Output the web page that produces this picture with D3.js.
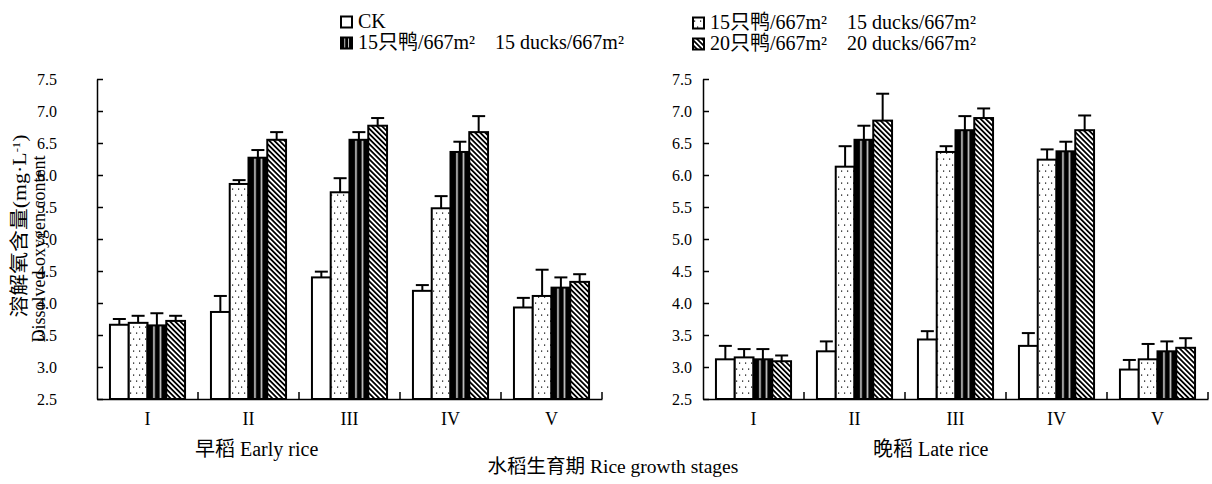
<!DOCTYPE html>
<html>
<head>
<meta charset="utf-8">
<script src="https://cdn.jsdelivr.net/npm/d3@7"></script>
<style>
body { margin: 0; background: #fff; }
text { font-family: "Liberation Serif", "Noto Sans CJK SC", serif; fill: #000; }
</style>
</head>
<body>
<svg id="chart" width="1212" height="484"></svg>
<script>
// 生育期与处理
const stages = ["I", "II", "III", "IV", "V"];
const treatments = ["ck", "d15dot", "d15bar", "d20"];
const yTicks = [2.5, 3.0, 3.5, 4.0, 4.5, 5.0, 5.5, 6.0, 6.5, 7.0, 7.5];

// 早稻 溶解氧均值与误差
const earlyCK = [3.66, 3.86, 4.40, 4.19, 3.93];
const earlyCKErr = [0.09, 0.25, 0.09, 0.09, 0.15];
const earlyDot = [3.69, 5.86, 5.73, 5.48, 4.11];
const earlyDotErr = [0.11, 0.06, 0.22, 0.19, 0.41];
const earlyBar = [3.65, 6.27, 6.55, 6.36, 4.24];
const earlyBarErr = [0.19, 0.12, 0.12, 0.16, 0.16];
const earlyHatch = [3.72, 6.55, 6.77, 6.67, 4.33];
const earlyHatchErr = [0.08, 0.12, 0.12, 0.25, 0.12];

// 晚稻
const lateCK = [3.12, 3.245, 3.43, 3.33, 2.96];
const lateCKErr = [0.21, 0.155, 0.13, 0.20, 0.15];
const lateDot = [3.15, 6.13, 6.36, 6.24, 3.12];
const lateDotErr = [0.13, 0.32, 0.09, 0.16, 0.24];
const lateBar = [3.12, 6.55, 6.70, 6.37, 3.245];
const lateBarErr = [0.16, 0.22, 0.22, 0.15, 0.155];
const lateHatch = [3.09, 6.85, 6.89, 6.70, 3.30];
const lateHatchErr = [0.09, 0.42, 0.15, 0.23, 0.15];

const svg = d3.select("#chart");
const defs = svg.append("defs");

// 点状填充
const pDot = defs.append("pattern").attr("id", "dots")
  .attr("patternUnits", "userSpaceOnUse").attr("width", 6).attr("height", 12);
pDot.append("rect").attr("width", 6).attr("height", 12).attr("fill", "#fff");
pDot.append("rect").attr("x", 1).attr("y", 2.5).attr("width", 1.2).attr("height", 1.2).attr("fill", "#000");
pDot.append("rect").attr("x", 4).attr("y", 8.5).attr("width", 1.2).attr("height", 1.2).attr("fill", "#000");

// 黑底白竖线
const pBar = defs.append("pattern").attr("id", "vbar")
  .attr("width", 1).attr("height", 1).attr("patternContentUnits", "objectBoundingBox");
pBar.append("rect").attr("width", 1).attr("height", 1).attr("fill", "#000");
pBar.append("rect").attr("x", 0.31).attr("width", 0.07).attr("height", 1).attr("fill", "#fff");
pBar.append("rect").attr("x", 0.66).attr("width", 0.07).attr("height", 1).attr("fill", "#fff");

// 斜线
const pHatch = defs.append("pattern").attr("id", "hatch")
  .attr("patternUnits", "userSpaceOnUse").attr("width", 3.6).attr("height", 10)
  .attr("patternTransform", "rotate(-45)");
pHatch.append("rect").attr("width", 3.6).attr("height", 10).attr("fill", "#fff");
pHatch.append("rect").attr("width", 1.8).attr("height", 10).attr("fill", "#000");

const fills = { ck: "#fff", d15dot: "url(#dots)", d15bar: "url(#vbar)", d20: "url(#hatch)" };

const y = d3.scaleLinear().domain([2.5, 7.5]).range([399, 79]);

function drawPanel(range, labelPad, means, errs) {
  const g = svg.append("g");
  const x = d3.scaleBand().domain(stages).range(range).padding(0);
  const xs = d3.scaleBand().domain(treatments).range([0, x.bandwidth()])
    .paddingInner(0).paddingOuter(0.69);

  // y 轴
  const ya = g.append("g").attr("transform", `translate(${range[0]},0)`)
    .call(d3.axisLeft(y).tickValues(yTicks).tickFormat(d3.format(".1f"))
      .tickSizeInner(-6).tickSizeOuter(0).tickPadding(labelPad));
  ya.selectAll("text").style("font-size", "16px").style("font-family", "Liberation Serif");
  ya.selectAll("line,path").attr("stroke", "#000").attr("stroke-width", 1.5);

  // x 轴
  const xa = g.append("g").attr("transform", `translate(0,${y(2.5)})`)
    .call(d3.axisBottom(x).tickSize(0).tickSizeOuter(0).tickPadding(13));
  xa.selectAll("text").style("font-size", "18px").style("font-family", "Liberation Serif");
  xa.select("path").attr("stroke", "#000").attr("stroke-width", 1.5);
  xa.selectAll(".sep").data(stages).join("line").attr("class", "sep")
    .attr("x1", d => x(d) + x.bandwidth()).attr("x2", d => x(d) + x.bandwidth())
    .attr("y1", 0).attr("y2", -7).attr("stroke", "#000").attr("stroke-width", 1.5);

  treatments.forEach((t, i) => {
    const rows = stages.map((s, j) => ({ s, v: means[i][j], e: errs[i][j] }));
    const cx = d => x(d.s) + xs(t) + xs.bandwidth() / 2;
    // 误差线
    g.selectAll(".err-" + t).data(rows).join("line").attr("class", "err-" + t)
      .attr("x1", cx).attr("x2", cx)
      .attr("y1", d => y(d.v)).attr("y2", d => y(d.v + d.e))
      .attr("stroke", "#000").attr("stroke-width", 2);
    g.selectAll(".cap-" + t).data(rows).join("line").attr("class", "cap-" + t)
      .attr("x1", d => cx(d) - 6.5).attr("x2", d => cx(d) + 6.5)
      .attr("y1", d => y(d.v + d.e)).attr("y2", d => y(d.v + d.e))
      .attr("stroke", "#000").attr("stroke-width", 2);
    // 柱
    g.selectAll(".bar-" + t).data(rows).join("rect").attr("class", "bar-" + t)
      .attr("x", d => x(d.s) + xs(t))
      .attr("y", d => y(d.v))
      .attr("width", xs.bandwidth())
      .attr("height", d => y(2.5) - y(d.v))
      .attr("fill", fills[t]).attr("stroke", "#000").attr("stroke-width", 2);
  });
}

drawPanel([97, 602], 40,
  [earlyCK, earlyDot, earlyBar, earlyHatch],
  [earlyCKErr, earlyDotErr, earlyBarErr, earlyHatchErr]);
drawPanel([703, 1208], 11,
  [lateCK, lateDot, lateBar, lateHatch],
  [lateCKErr, lateDotErr, lateBarErr, lateHatchErr]);

// 图例
function legendItem(xi, yc, fill, cn, en) {
  svg.append("rect").attr("x", xi).attr("y", yc - 5.5).attr("width", 11).attr("height", 11)
    .attr("fill", fill).attr("stroke", "#000").attr("stroke-width", 2);
  const t = svg.append("text").attr("x", xi + 17).attr("y", yc + 6).style("font-size", "20px");
  t.append("tspan").text(cn);
  if (en) t.append("tspan").attr("dx", 20).text(en);
}
legendItem(341, 22, fills.ck, "CK", null);
legendItem(341, 43, fills.d15bar, "15只鸭/667m²", "15 ducks/667m²");
legendItem(693, 23, fills.d15dot, "15只鸭/667m²", "15 ducks/667m²");
legendItem(693, 44, fills.d20, "20只鸭/667m²", "20 ducks/667m²");

// y 轴标题
const yt1 = svg.append("text").attr("transform", "translate(26,226) rotate(-90)")
  .attr("text-anchor", "middle").style("font-size", "19px")
  .attr("textLength", 183).attr("lengthAdjust", "spacingAndGlyphs");
yt1.append("tspan").text("溶解氧含量(mg·L");
yt1.append("tspan").attr("baseline-shift", "super").style("font-size", "11px").text("-1");
yt1.append("tspan").attr("baseline-shift", "0").text(")");
svg.append("text").attr("transform", "translate(45,249) rotate(-90)")
  .attr("text-anchor", "middle").style("font-size", "18px").text("Dissolved oxygen content");

// 底部标题
svg.append("text").attr("x", 195).attr("y", 456).style("font-size", "20px").text("早稻 Early rice");
svg.append("text").attr("x", 873).attr("y", 456).style("font-size", "20px").text("晚稻 Late rice");
svg.append("text").attr("x", 613).attr("y", 473).attr("text-anchor", "middle")
  .style("font-size", "19.5px").text("水稻生育期 Rice growth stages");
</script>
</body>
</html>
